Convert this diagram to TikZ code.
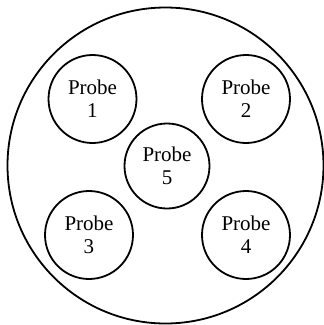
\documentclass[tikz,border=0pt]{standalone}
\usepackage{fontspec}
\setmainfont{Liberation Serif}
\usetikzlibrary{positioning}

\begin{document}
\begin{tikzpicture}[
  x=1pt,y=-1pt,
  every probe/.style={draw=black,line width=1.8pt,circle,inner sep=0pt,
    minimum size=88pt,align=center,font=\fontsize{21}{23}\selectfont},
  housing/.style={draw=black,line width=1.8pt}
]
  \useasboundingbox (0,0) rectangle (324,325);
  \draw[housing] (165.5,165.5) circle (158pt);
  \node[every probe] (probe1) at (92.5,99) {Probe\\1};
  \node[every probe] (probe2) at (246,99) {Probe\\2};
  \node[every probe,minimum size=85pt] (probe5) at (167,166) {Probe\\5};
  \node[every probe] (probe3) at (89,235) {Probe\\3};
  \node[every probe] (probe4) at (246,235) {Probe\\4};
\end{tikzpicture}
\end{document}
